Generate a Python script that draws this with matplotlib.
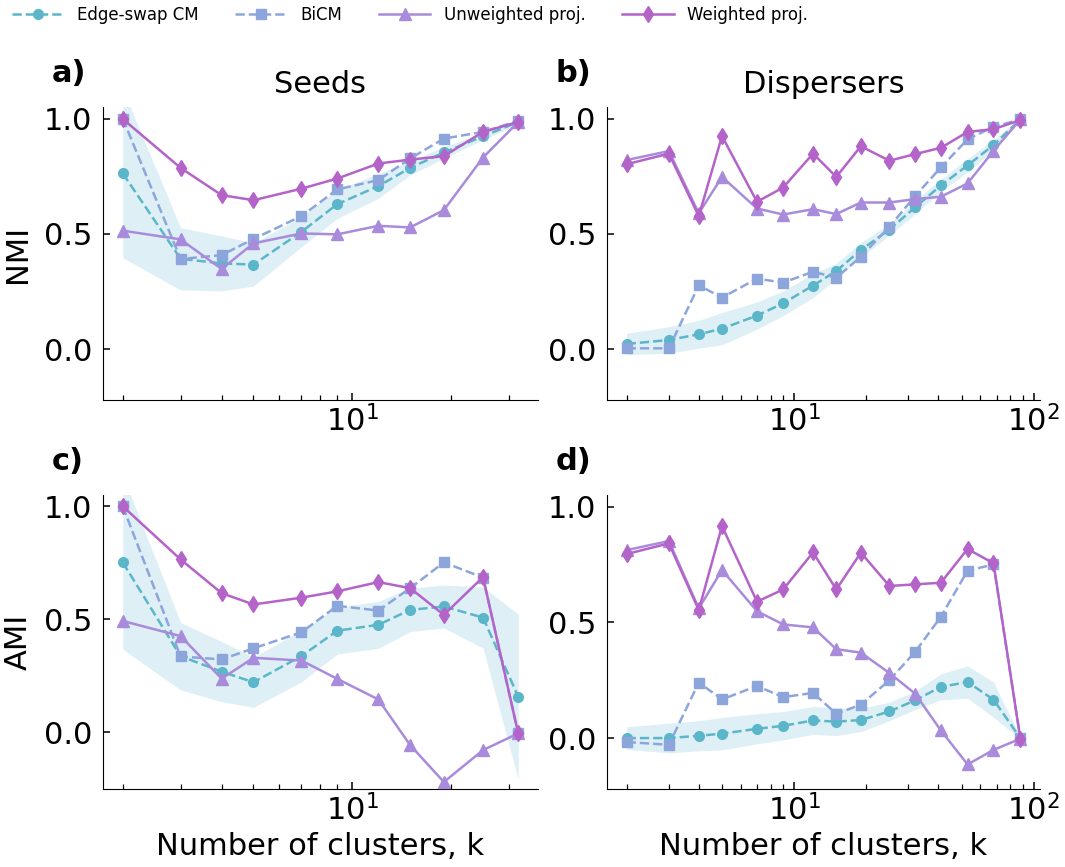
import numpy as np
import matplotlib
matplotlib.use("Agg")
import matplotlib.pyplot as plt

# Number of clusters evaluated for each network
k_seeds = [2, 3, 4, 5, 7, 9, 12, 15, 19, 25, 32]
k_disp = [2, 3, 4, 5, 7, 9, 12, 15, 19, 25, 32, 41, 53, 68, 88]

# Seeds, NMI
nmi_seeds_cm = [0.762, 0.392, 0.372, 0.367, 0.509, 0.629, 0.707, 0.786, 0.853, 0.923, 0.985]
nmi_seeds_cm_sd = [0.365, 0.135, 0.119, 0.093, 0.065, 0.062, 0.053, 0.030, 0.025, 0.015, 0.010]
nmi_seeds_bicm = [1.000, 0.391, 0.408, 0.478, 0.577, 0.693, 0.733, 0.827, 0.913, 0.942, 0.990]
nmi_seeds_unw = [0.514, 0.476, 0.348, 0.459, 0.502, 0.498, 0.535, 0.528, 0.603, 0.831, 0.985]
nmi_seeds_w = [0.998, 0.786, 0.668, 0.646, 0.696, 0.740, 0.805, 0.822, 0.837, 0.942, 0.985]

# Dispersers, NMI
nmi_disp_cm = [0.023, 0.040, 0.065, 0.089, 0.146, 0.199, 0.276, 0.339, 0.430, 0.519, 0.615, 0.710, 0.797, 0.885, 0.996]
nmi_disp_cm_sd = [0.046, 0.058, 0.060, 0.070, 0.059, 0.053, 0.052, 0.033, 0.032, 0.025, 0.029, 0.027, 0.029, 0.023, 0.005]
nmi_disp_bicm = [0.004, 0.004, 0.277, 0.224, 0.306, 0.289, 0.336, 0.310, 0.401, 0.531, 0.664, 0.788, 0.910, 0.964, 0.996]
nmi_disp_unw = [0.820, 0.859, 0.589, 0.747, 0.610, 0.584, 0.607, 0.586, 0.636, 0.636, 0.651, 0.661, 0.719, 0.860, 0.996]
nmi_disp_w = [0.802, 0.848, 0.577, 0.924, 0.639, 0.701, 0.848, 0.747, 0.880, 0.817, 0.846, 0.873, 0.942, 0.954, 0.993]

# Seeds, AMI
ami_seeds_cm = [0.752, 0.337, 0.269, 0.222, 0.338, 0.450, 0.476, 0.542, 0.557, 0.508, 0.158]
ami_seeds_cm_sd = [0.384, 0.149, 0.133, 0.111, 0.114, 0.103, 0.104, 0.096, 0.095, 0.135, 0.365]
ami_seeds_bicm = [1.000, 0.336, 0.323, 0.372, 0.443, 0.560, 0.539, 0.638, 0.752, 0.685, -0.004]
ami_seeds_unw = [0.493, 0.426, 0.238, 0.330, 0.318, 0.237, 0.146, -0.056, -0.219, -0.078, -0.004]
ami_seeds_w = [1.000, 0.765, 0.616, 0.566, 0.596, 0.624, 0.665, 0.638, 0.520, 0.687, -0.004]

# Dispersers, AMI
ami_disp_cm = [0.000, 0.000, 0.010, 0.019, 0.040, 0.053, 0.076, 0.071, 0.078, 0.115, 0.163, 0.221, 0.242, 0.166, 0.000]
ami_disp_cm_sd = [0.049, 0.064, 0.065, 0.070, 0.065, 0.061, 0.060, 0.060, 0.050, 0.040, 0.040, 0.056, 0.070, 0.076, 0.005]
ami_disp_bicm = [-0.017, -0.029, 0.240, 0.167, 0.225, 0.177, 0.195, 0.105, 0.144, 0.250, 0.372, 0.524, 0.723, 0.750, 0.000]
ami_disp_unw = [0.812, 0.851, 0.560, 0.726, 0.548, 0.491, 0.478, 0.384, 0.369, 0.281, 0.192, 0.033, -0.114, -0.051, -0.003]
ami_disp_w = [0.795, 0.841, 0.553, 0.916, 0.589, 0.642, 0.802, 0.642, 0.801, 0.657, 0.664, 0.671, 0.817, 0.755, -0.003]

series_labels = ["Edge-swap CM", "BiCM", "Unweighted proj.", "Weighted proj."]
panel_tags = ["a)", "b)", "c)", "d)"]
col_titles = ["Seeds", "Dispersers"]
row_ylabels = ["NMI", "AMI"]
xlabel = "Number of clusters, k"

C_CM = "#5cb6ca"
C_BICM = "#8ca6dc"
C_UNW = "#a98bdb"
C_W = "#b463c9"
C_BAND = "lightblue"

plt.rcParams["font.family"] = "DejaVu Sans"

fig = plt.figure(figsize=(10.65, 8.67), dpi=100)
W, H = 1065.0, 867.0


def px_axes(x0, y0, x1, y1):
    return fig.add_axes([x0 / W, 1 - y1 / H, (x1 - x0) / W, (y1 - y0) / H])


axes = [
    px_axes(103, 107, 538, 400),
    px_axes(607, 107, 1040, 400),
    px_axes(103, 495, 538, 789),
    px_axes(607, 495, 1040, 789),
]

panels = [
    (k_seeds, nmi_seeds_cm, nmi_seeds_cm_sd, nmi_seeds_bicm, nmi_seeds_unw, nmi_seeds_w, (-0.22, 1.05)),
    (k_disp, nmi_disp_cm, nmi_disp_cm_sd, nmi_disp_bicm, nmi_disp_unw, nmi_disp_w, (-0.22, 1.05)),
    (k_seeds, ami_seeds_cm, ami_seeds_cm_sd, ami_seeds_bicm, ami_seeds_unw, ami_seeds_w, (-0.25, 1.05)),
    (k_disp, ami_disp_cm, ami_disp_cm_sd, ami_disp_bicm, ami_disp_unw, ami_disp_w, (-0.22, 1.05)),
]

handles = None
for i, (ax, (k, cm, sd, bicm, unw, w, ylim)) in enumerate(zip(axes, panels)):
    k = np.asarray(k, dtype=float)
    cm = np.asarray(cm)
    sd = np.asarray(sd)
    ax.fill_between(k, cm - sd, cm + sd, color=C_BAND, alpha=0.4, lw=0, zorder=1)
    h1, = ax.plot(k, cm, "--o", color=C_CM, lw=1.8, ms=7, label=series_labels[0], zorder=2)
    h2, = ax.plot(k, bicm, "--s", color=C_BICM, lw=1.8, ms=7, label=series_labels[1], zorder=3)
    h3, = ax.plot(k, unw, "-^", color=C_UNW, lw=1.8, ms=8, label=series_labels[2], zorder=4)
    h4, = ax.plot(k, w, "-d", color=C_W, lw=1.8, ms=8, label=series_labels[3], zorder=5)
    handles = [h1, h2, h3, h4]

    ax.set_xscale("log")
    ax.set_ylim(*ylim)
    ax.set_yticks([0.0, 0.5, 1.0])
    ax.spines["top"].set_visible(False)
    ax.spines["right"].set_visible(False)
    ax.tick_params(axis="both", which="both", direction="in", labelsize=22)
    ax.tick_params(axis="both", which="major", length=5, width=1.1)
    ax.tick_params(axis="both", which="minor", length=3.8, width=0.9)
    ax.tick_params(axis="y", pad=8)
    ax.text(-0.118, 1.065, panel_tags[i], transform=ax.transAxes, fontsize=22,
            fontweight="bold", ha="left", va="bottom")
    if i < 2:
        ax.set_title(col_titles[i], fontsize=22, pad=10)
    else:
        ax.set_xlabel(xlabel, fontsize=22, labelpad=4)
    if i % 2 == 0:
        ax.set_ylabel(row_ylabels[i // 2], fontsize=22, labelpad=8)

fig.legend(handles=handles, labels=series_labels, loc="center", ncol=4,
           bbox_to_anchor=(410 / W, 1 - 15 / H), frameon=False, fontsize=12,
           handlelength=3.1, columnspacing=2.2, handletextpad=0.8)

fig.savefig("out.png", dpi=100)
